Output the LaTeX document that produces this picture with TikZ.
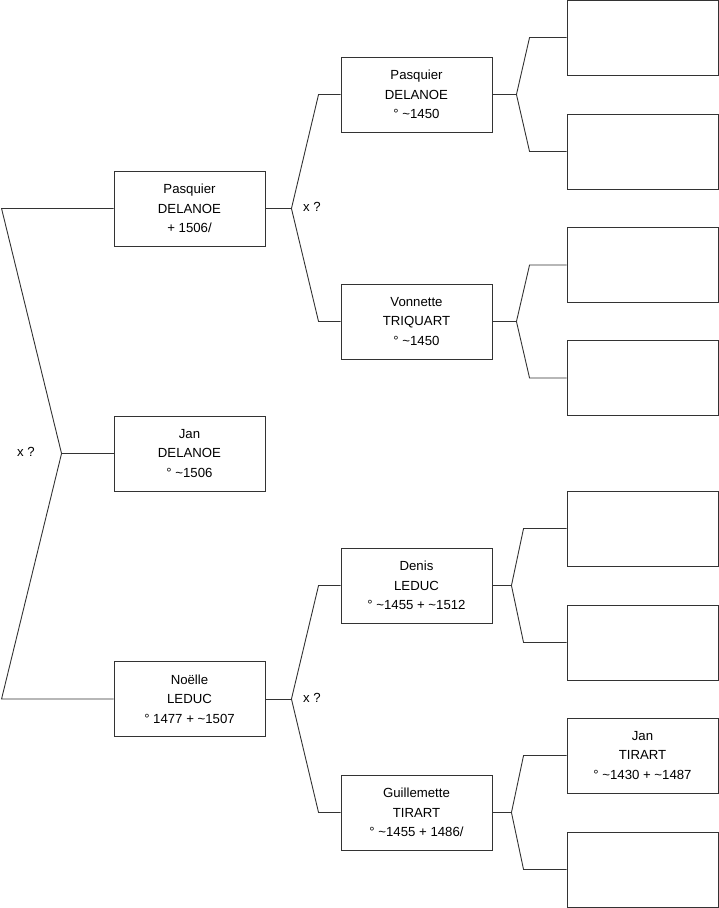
\documentclass[tikz,border=0pt]{standalone}
\usepackage{fontspec}
\setmainfont{Liberation Sans}
\usetikzlibrary{positioning}
\newcommand{\tl}{\textasciitilde}

\begin{document}
\begin{tikzpicture}[x=1pt, y=-1pt,
  person/.style={rectangle, draw=black!80, fill=white, line width=0.9pt,
                 minimum width=151pt, minimum height=75pt, align=center,
                 inner sep=2pt, font=\fontsize{13.2}{19.5}\selectfont},
  link/.style={draw=black!80, line width=0.9pt},
  union/.style={font=\fontsize{13.2}{15}\selectfont, inner sep=0pt}
]
\useasboundingbox (0,0) rectangle (719,908);

% -- generation 1 -----------------------------
\node[person] (jan) at (189.5, 453.5) {Jan\\DELANOE\\° \tl1506};

% -- generation 2 -----------------------------
\node[person] (p1) at (189.5, 208.5) {Pasquier\\DELANOE\\+ 1506/};
\node[person] (no) at (189.5, 699)   {Noëlle\\LEDUC\\° 1477 + \tl1507};

% -- generation 3 -----------------------------
\node[person] (pa) at (416.5, 94.5)  {Pasquier\\DELANOE\\° \tl1450};
\node[person] (vo) at (416.5, 321.5) {Vonnette\\TRIQUART\\° \tl1450};
\node[person] (de) at (416.5, 585.5) {Denis\\LEDUC\\° \tl1455 + \tl1512};
\node[person] (gu) at (416.5, 812.5) {Guillemette\\TIRART\\° \tl1455 + 1486/};

% -- generation 4 -----------------------------
\node[person] (g1) at (642.5, 37.5)  {};
\node[person] (g2) at (642.5, 151.5) {};
\node[person] (g3) at (642.5, 265)   {};
\node[person] (g4) at (642.5, 378)   {};
\node[person] (g5) at (642.5, 528.5) {};
\node[person] (g6) at (642.5, 642.5) {};
\node[person] (g7) at (642.5, 755.5) {Jan\\TIRART\\° \tl1430 + \tl1487};
\node[person] (g8) at (642.5, 869.5) {};

% -- forks ------------------------------------
\coordinate (f0) at ([xshift=-52pt]jan.west);
\coordinate (f1) at ([xshift=26pt]p1.east);
\coordinate (f2) at ([xshift=26pt]no.east);

\draw[link] (jan.west) -- (f0);
\draw[link] (p1.west) -- ([xshift=-112pt]p1.west) -- (f0)
  -- ([xshift=-112pt]no.west) -- (no.west);
\node[union] (x0) at (26, 452) {x ?};

\draw[link] (p1.east) -- (f1);
\draw[link] (pa.west) -- ([xshift=-22pt]pa.west) -- (f1)
  -- ([xshift=-22pt]vo.west) -- (vo.west);
\node[union] (x1) at (312, 207) {x ?};

\draw[link] (no.east) -- (f2);
\draw[link] (de.west) -- ([xshift=-22pt]de.west) -- (f2)
  -- ([xshift=-22pt]gu.west) -- (gu.west);
\node[union] (x2) at (312, 698) {x ?};

\draw[link] (pa.east) -- ++(24,0) coordinate (fa);
\draw[link] (g1.west) -- ([xshift=-37pt]g1.west) -- (fa)
  -- ([xshift=-37pt]g2.west) -- (g2.west);
\draw[link] (vo.east) -- ++(24,0) coordinate (fv);
\draw[link] (g3.west) -- ([xshift=-37pt]g3.west) -- (fv)
  -- ([xshift=-37pt]g4.west) -- (g4.west);
\draw[link] (de.east) -- ++(19,0) coordinate (fd);
\draw[link] (g5.west) -- ([xshift=-43pt]g5.west) -- (fd)
  -- ([xshift=-43pt]g6.west) -- (g6.west);
\draw[link] (gu.east) -- ++(19,0) coordinate (fg);
\draw[link] (g7.west) -- ([xshift=-43pt]g7.west) -- (fg)
  -- ([xshift=-43pt]g8.west) -- (g8.west);

\end{tikzpicture}
\end{document}
